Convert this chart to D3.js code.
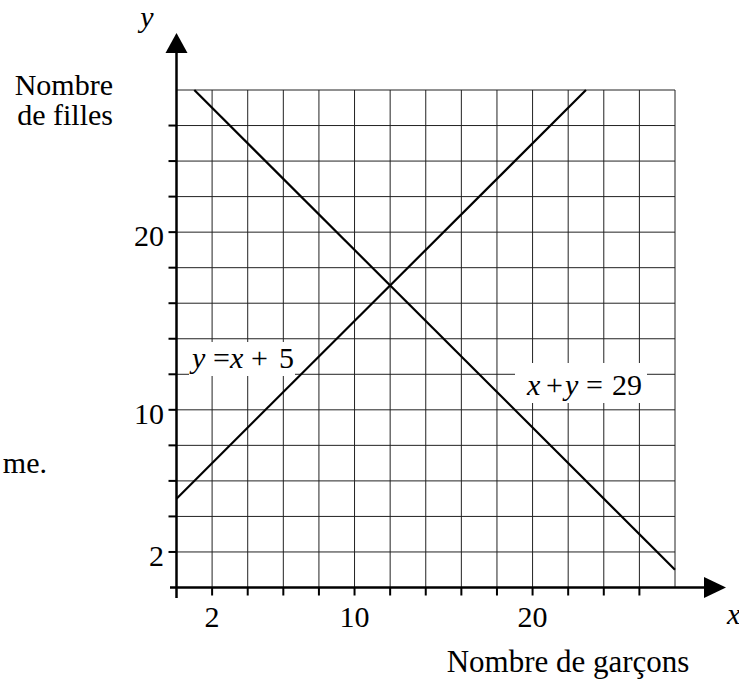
<!DOCTYPE html>
<html><head><meta charset="utf-8">
<script src="https://cdn.jsdelivr.net/npm/d3@7"></script>
<style>body{margin:0;background:#fff}svg{display:block}</style>
</head><body>
<script>
const xDomain = [0, 28];
const yDomain = [0, 28];
const gridValues = d3.range(0, 29, 2);
const tickValues = d3.range(2, 27, 2);
const xTickLabels = [2, 10, 20];
const yTickLabels = [2, 10, 20];
const lineA = [[0, 5], [23, 28]];   // y = x + 5
const lineB = [[1, 28], [28, 1]];   // x + y = 29

const W = 739, H = 680;
const FONT = "'Liberation Serif', 'DejaVu Serif', 'Noto Serif', 'Times New Roman', Times, serif";
const svg = d3.select("body").append("svg").attr("width", W).attr("height", H)
  .style("font-family", FONT);
const x = d3.scaleLinear().domain(xDomain).range([176.5, 675]);
const y = d3.scaleLinear().domain(yDomain).range([587.5, 90]);

function txt(px, py, s, size, opts = {}) {
  return svg.append("text").attr("x", px).attr("y", py).text(s)
    .style("font-family", FONT).style("font-size", size + "px")
    .style("font-style", opts.italic ? "italic" : "normal")
    .attr("text-anchor", opts.anchor || "start").attr("fill", "#000");
}

// grid
const g = svg.append("g").attr("stroke", "#222").attr("stroke-width", 1);
g.selectAll(".v").data(gridValues).join("line")
  .attr("x1", d => x(d)).attr("x2", d => x(d)).attr("y1", y(0)).attr("y2", y(28));
g.selectAll(".h").data(gridValues).join("line")
  .attr("y1", d => y(d)).attr("y2", d => y(d)).attr("x1", x(0)).attr("x2", x(28));

// lines
const lg = d3.line().x(d => x(d[0])).y(d => y(d[1]));
svg.append("path").attr("d", lg(lineA)).attr("stroke", "#000").attr("stroke-width", 2.2).attr("fill", "none");
svg.append("path").attr("d", lg(lineB)).attr("stroke", "#000").attr("stroke-width", 2.2).attr("fill", "none");

// axes
const ax = svg.append("g").attr("stroke", "#000").attr("stroke-width", 2.5);
ax.append("line").attr("x1", x(0)).attr("x2", x(0)).attr("y1", 598).attr("y2", 50);
ax.append("line").attr("x1", 170).attr("x2", 706).attr("y1", y(0)).attr("y2", y(0));
svg.append("path").attr("d", `M${x(0)},33 L${x(0)-11},53 L${x(0)+11},53 Z`).attr("fill", "#000");
svg.append("path").attr("d", `M726,${y(0)} L704,${y(0)-10.5} L704,${y(0)+10.5} Z`).attr("fill", "#000");
ax.selectAll(".ty").data(tickValues).join("line")
  .attr("x1", x(0) - 8).attr("x2", x(0)).attr("y1", d => y(d)).attr("y2", d => y(d)).attr("stroke-width", 2);
ax.selectAll(".tx").data(tickValues).join("line")
  .attr("y1", y(0)).attr("y2", y(0) + 8).attr("x1", d => x(d)).attr("x2", d => x(d)).attr("stroke-width", 2);

// tick labels
xTickLabels.forEach(d => txt(x(d), 627, d, 30, {anchor: "middle"}));
yTickLabels.forEach(d => txt(164, y(d) + 14, d, 30, {anchor: "end"}));

// axis titles
txt(147, 27, "y", 30, {italic: true, anchor: "middle"});
txt(727, 624, "x", 30, {italic: true});
txt(113, 95, "Nombre", 30, {anchor: "end"});
txt(113, 125, "de filles", 30, {anchor: "end"});
txt(568, 672, "Nombre de garçons", 31, {anchor: "middle"});
txt(47, 473, "me.", 30, {anchor: "end"});

// line labels
svg.append("rect").attr("x", 189).attr("y", 342).attr("width", 106).attr("height", 34).attr("fill", "#fff");
txt(192, 368, "y", 30, {italic: true});
txt(213, 368, "=", 30);
txt(230, 368, "x", 30, {italic: true});
txt(251, 368, "+", 30);
txt(279, 368, "5", 30);

svg.append("rect").attr("x", 515).attr("y", 363).attr("width", 132).attr("height", 40).attr("fill", "#fff");
txt(527, 395, "x", 30, {italic: true});
txt(546, 395, "+", 30);
txt(565, 395, "y", 30, {italic: true});
txt(586, 395, "=", 30);
txt(612, 395, "29", 30);
</script>
</body></html>
